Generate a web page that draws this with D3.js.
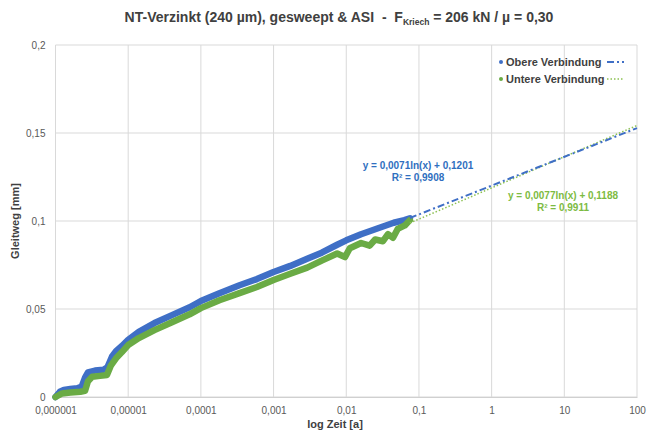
<!DOCTYPE html>
<html>
<head>
<meta charset="utf-8">
<script src="https://cdn.jsdelivr.net/npm/d3@7"></script>
<style>
  body { margin: 0; background: #fff; }
  text { font-family: "Liberation Sans", Arial, sans-serif; }
</style>
</head>
<body>
<div id="chart"></div>
<script>
// Obere Verbindung (Zeit in a, Gleitweg in mm)
let zeitOben = [1e-6, 1.15e-6, 1.3e-6, 1.6e-6, 2.0e-6, 2.3e-6, 2.55e-6, 2.8e-6, 3.5e-6, 4.6e-6, 5.2e-6, 6.0e-6, 6.8e-6, 8.2e-6,
    1e-5, 1.4e-5, 2.3e-5, 4e-5, 7e-5, 1e-4, 1.8e-4, 3.4e-4, 5.9e-4, 1e-3, 1.7e-3, 2.9e-3, 4.6e-3, 7.5e-3,
    1e-2, 1.6e-2, 2.8e-2, 4.5e-2, 6.3e-2, 7.5e-2];
let wegOben = [0, 0.003, 0.004, 0.0045, 0.005, 0.006, 0.011, 0.014, 0.015, 0.0155, 0.017, 0.023, 0.026, 0.029,
    0.0325, 0.037, 0.042, 0.0465, 0.051, 0.0545, 0.059, 0.0635, 0.067, 0.071, 0.0745, 0.0785, 0.082, 0.0865,
    0.089, 0.0925, 0.096, 0.099, 0.1005, 0.1015];

// Untere Verbindung
let zeitUnten = [1e-6, 1.23e-6, 1.6e-6, 2.2e-6, 2.55e-6, 2.8e-6, 3.2e-6, 4.1e-6, 5.1e-6, 5.8e-6, 6.8e-6, 8.2e-6,
    1e-5, 1.4e-5, 2.3e-5, 4e-5, 7e-5, 1e-4, 1.8e-4, 3.4e-4, 5.9e-4, 1e-3, 1.7e-3, 2.9e-3, 4.6e-3, 7.5e-3,
    9.6e-3, 1.12e-2, 1.6e-2, 2.1e-2, 2.5e-2, 3.2e-2, 3.75e-2, 4.4e-2, 5.1e-2, 6.4e-2, 7.5e-2];
let wegUnten = [0, 0.002, 0.0025, 0.003, 0.0035, 0.009, 0.0115, 0.012, 0.0125, 0.018, 0.022, 0.0255,
    0.0295, 0.0335, 0.038, 0.0425, 0.047, 0.0505, 0.055, 0.059, 0.0625, 0.0665, 0.07, 0.0735, 0.0775, 0.0815,
    0.0795, 0.0845, 0.0875, 0.086, 0.0895, 0.0885, 0.0925, 0.0905, 0.0955, 0.0975, 0.1005];

// Trendlinien y = a*ln(x) + b
let trendOben = { a: 0.0071, b: 0.1201 };
let trendUnten = { a: 0.0077, b: 0.1188 };

let xTicks = [1e-6, 1e-5, 1e-4, 1e-3, 1e-2, 1e-1, 1, 10, 100];
let yTicks = [0, 0.05, 0.1, 0.15, 0.2];

let blau = "#3f6fc6", gruen = "#6aab45";

let width = 648, height = 439;
let margin = { top: 45, right: 11, bottom: 42, left: 55.5 };

let svg = d3.select("#chart").append("svg")
    .attr("width", width)
    .attr("height", height);

let de = d3.formatLocale({ decimal: ",", thousands: ".", grouping: [3], currency: ["", " €"] });

let x = d3.scaleLog()
    .domain([1e-6, 100])
    .range([margin.left, width - margin.right]);
let y = d3.scaleLinear()
    .domain([0, 0.2])
    .range([height - margin.bottom, margin.top]);

// Gitter
svg.append("g").selectAll("line").data(yTicks).join("line")
    .attr("x1", margin.left).attr("x2", width - margin.right)
    .attr("y1", d => y(d)).attr("y2", d => y(d))
    .attr("stroke", "#d9d9d9").attr("stroke-width", 1);
svg.append("g").selectAll("line").data(xTicks).join("line")
    .attr("x1", d => x(d)).attr("x2", d => x(d))
    .attr("y1", margin.top).attr("y2", height - margin.bottom)
    .attr("stroke", "#d9d9d9").attr("stroke-width", 1);

// Achsen
let xAxis = svg.append("g")
    .attr("transform", `translate(0,${height - margin.bottom})`)
    .call(d3.axisBottom(x).tickValues(xTicks).tickFormat(de.format(".6~f")).tickSize(0).tickPadding(10));
xAxis.select(".domain").attr("stroke", "#d0d0d0");
xAxis.selectAll("text").attr("font-size", 10).attr("fill", "#595959");

let yAxis = svg.append("g")
    .attr("transform", `translate(${margin.left},0)`)
    .call(d3.axisLeft(y).tickValues(yTicks).tickFormat(de.format("~g")).tickSize(0).tickPadding(10));
yAxis.select(".domain").remove();
yAxis.selectAll("text").attr("font-size", 10).attr("fill", "#595959");

// Titel
let title = svg.append("text")
    .attr("x", 339).attr("y", 22)
    .attr("text-anchor", "middle")
    .attr("xml:space", "preserve")
    .attr("font-size", 14).attr("font-weight", "bold").attr("fill", "#404040");
title.append("tspan").text("NT-Verzinkt (240 µm), gesweept & ASI\u00a0\u00a0-\u00a0\u00a0F");
title.append("tspan").attr("font-size", 8.5).attr("dy", 3).text("Kriech");
title.append("tspan").attr("dy", -3).text(" = 206 kN / µ = 0,30");

svg.append("text")
    .attr("transform", `translate(19,${(margin.top + height - margin.bottom) / 2}) rotate(-90)`)
    .attr("text-anchor", "middle")
    .attr("font-size", 11).attr("font-weight", "bold").attr("fill", "#404040")
    .text("Gleitweg [mm]");
svg.append("text")
    .attr("x", 335).attr("y", 428)
    .attr("text-anchor", "middle")
    .attr("font-size", 11).attr("font-weight", "bold").attr("fill", "#404040")
    .text("log Zeit [a]");

// Messdaten
let line = d3.line().x(d => x(d[0])).y(d => y(d[1]));
let oben = zeitOben.map((t, i) => [t, wegOben[i]]);
let unten = zeitUnten.map((t, i) => [t, wegUnten[i]]);

svg.append("path").datum(oben)
    .attr("d", line).attr("fill", "none")
    .attr("stroke", blau).attr("stroke-width", 6.5)
    .attr("stroke-linejoin", "round").attr("stroke-linecap", "round");
svg.append("path").datum(unten)
    .attr("d", line).attr("fill", "none")
    .attr("stroke", gruen).attr("stroke-width", 6.5)
    .attr("stroke-linejoin", "round").attr("stroke-linecap", "round");

// Trendlinien (Prognose bis 100 a)
function trend(c, t0) {
    return [t0, 100].map(t => [t, c.a * Math.log(t) + c.b]);
}
svg.append("path").datum(trend(trendUnten, 0.075))
    .attr("d", line).attr("fill", "none")
    .attr("stroke", "#8cc152").attr("stroke-width", 1.5)
    .attr("stroke-dasharray", "1.5,2");
svg.append("path").datum(trend(trendOben, 0.075))
    .attr("d", line).attr("fill", "none")
    .attr("stroke", blau).attr("stroke-width", 2)
    .attr("stroke-dasharray", "7,3,2,3");

// Gleichungen
let eq = [
    { x: 418, y: 169, c: "#2f6fc0", t: ["y = 0,0071ln(x) + 0,1201", "R² = 0,9908"] },
    { x: 563, y: 199, c: "#7dbb42", t: ["y = 0,0077ln(x) + 0,1188", "R² = 0,9911"] }
];
eq.forEach(e => {
    e.t.forEach((s, i) => {
        svg.append("text")
            .attr("x", e.x).attr("y", e.y + i * 12)
            .attr("text-anchor", "middle")
            .attr("font-size", 10).attr("font-weight", "bold").attr("fill", e.c)
            .text(s);
    });
});

// Legende
let legend = [
    { name: "Obere Verbindung", c: blau, dash: "7,3,2,3", w: 2 },
    { name: "Untere Verbindung", c: "#8cc152", dash: "1.5,2", w: 1.5 }
];
legend.forEach((l, i) => {
    let ly = 62 + i * 17;
    svg.append("circle").attr("cx", 501).attr("cy", ly).attr("r", 2)
        .attr("fill", i == 0 ? blau : gruen);
    svg.append("text").attr("x", 506).attr("y", ly + 4)
        .attr("font-size", 11).attr("font-weight", "bold").attr("fill", "#404040")
        .text(l.name);
    svg.append("line").attr("x1", 607).attr("x2", 624)
        .attr("y1", ly).attr("y2", ly)
        .attr("stroke", l.c).attr("stroke-width", l.w)
        .attr("stroke-dasharray", l.dash);
});
</script>
</body>
</html>
